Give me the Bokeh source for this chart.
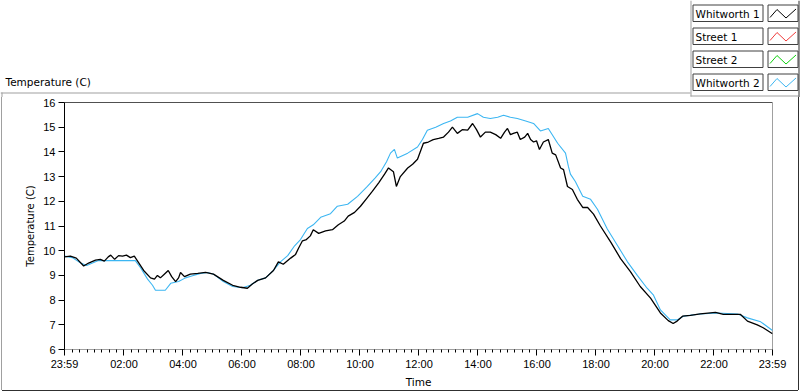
from bokeh.plotting import figure
from bokeh.models import FixedTicker, Span, Range1d
from bokeh.layouts import column
from bokeh.core.properties import value
from bokeh.embed import file_html
from bokeh.resources import INLINE

# ---------------- data (minutes since midnight, temperature in C) ----------------
w1_minutes = [-1, 11, 23, 38, 48, 62, 72, 80, 88, 93, 101, 109, 117, 125, 133, 141, 147,
              160, 174, 182, 188, 194, 202, 210, 217, 225, 231, 235, 243, 255, 270, 286,
              302, 322, 341, 357, 371, 381, 392, 408, 424, 434, 444, 459, 469, 475, 483,
              491, 499, 505, 516, 530, 544, 556, 568, 576, 589, 601, 613, 625, 638, 650,
              658, 668, 674, 682, 697, 707, 717, 729, 739, 749, 760, 770, 780, 788, 798,
              808, 819, 829, 837, 845, 855, 865, 876, 886, 894, 900, 906, 912, 920, 926,
              935, 941, 947, 953, 959, 965, 973, 983, 991, 998, 1008, 1014, 1022, 1032,
              1042, 1053, 1063, 1075, 1089, 1110, 1130, 1150, 1170, 1191, 1211, 1227,
              1237, 1245, 1256, 1272, 1292, 1323, 1339, 1374, 1388, 1408, 1420, 1439]
w1_temp = [9.75, 9.78, 9.70, 9.38, 9.50, 9.62, 9.65, 9.58, 9.75, 9.82, 9.65, 9.80, 9.78,
           9.82, 9.72, 9.78, 9.60, 9.20, 8.90, 8.85, 9.00, 8.90, 9.05, 9.20, 8.95, 8.75,
           8.90, 9.12, 8.95, 9.05, 9.08, 9.12, 9.05, 8.80, 8.60, 8.52, 8.48, 8.65, 8.80,
           8.90, 9.20, 9.55, 9.45, 9.70, 9.85, 10.10, 10.40, 10.45, 10.60, 10.85, 10.70,
           10.80, 10.85, 11.05, 11.20, 11.40, 11.55, 11.80, 12.10, 12.40, 12.75, 13.10,
           13.35, 13.20, 12.60, 13.00, 13.35, 13.50, 13.70, 14.35, 14.40, 14.50, 14.55,
           14.60, 14.80, 15.00, 14.75, 14.90, 14.88, 15.15, 14.90, 14.60, 14.80, 14.80,
           14.70, 14.55, 14.80, 14.95, 14.70, 14.75, 14.80, 14.50, 14.60, 14.75, 14.50,
           14.40, 14.45, 14.10, 14.40, 14.50, 13.95, 13.88, 13.35, 13.28, 12.60, 12.48,
           12.08, 11.75, 11.75, 11.48, 11.00, 10.35, 9.68, 9.15, 8.55, 8.08, 7.48, 7.17,
           7.05, 7.15, 7.35, 7.38, 7.44, 7.50, 7.42, 7.42, 7.15, 7.00, 6.88, 6.64]

w2_minutes = [-1, 15, 32, 44, 56, 68, 80, 143, 154, 168, 178, 184, 204, 215, 231, 245, 261,
              276, 290, 302, 322, 341, 361, 377, 392, 408, 424, 438, 453, 467, 479, 493,
              505, 520, 540, 554, 575, 595, 615, 631, 642, 654, 662, 670, 676, 697, 717,
              727, 737, 754, 770, 784, 798, 819, 839, 851, 865, 880, 892, 906, 920, 937,
              953, 967, 983, 1002, 1018, 1024, 1028, 1038, 1053, 1069, 1083, 1103, 1124,
              1144, 1164, 1184, 1197, 1211, 1231, 1245, 1258, 1292, 1327, 1368, 1388,
              1415, 1439]
w2_temp = [9.78, 9.72, 9.50, 9.40, 9.50, 9.60, 9.60, 9.60, 9.30, 8.85, 8.60, 8.40, 8.40,
           8.68, 8.75, 8.90, 9.00, 9.08, 9.12, 9.05, 8.75, 8.55, 8.50, 8.60, 8.80, 8.90,
           9.20, 9.55, 9.80, 10.20, 10.45, 10.90, 11.05, 11.35, 11.50, 11.80, 11.88,
           12.20, 12.60, 12.95, 13.20, 13.60, 13.95, 14.10, 13.75, 13.95, 14.20, 14.50,
           14.88, 15.00, 15.15, 15.25, 15.40, 15.40, 15.55, 15.40, 15.35, 15.40, 15.48,
           15.40, 15.35, 15.25, 15.15, 14.85, 14.95, 14.35, 13.95, 13.40, 13.10, 12.80,
           12.20, 12.08, 11.68, 10.88, 10.20, 9.55, 9.00, 8.48, 8.20, 7.60, 7.20, 7.20,
           7.35, 7.44, 7.48, 7.44, 7.28, 7.12, 6.77]

series_names = ["Whitworth 1", "Street 1", "Street 2", "Whitworth 2"]
series_colors = ["#000000", "#f03c3c", "#10d010", "#3cb6f2"]

x_tick_minutes = [-1, 120, 240, 360, 480, 600, 720, 840, 960, 1080, 1200, 1320, 1439]
x_tick_labels = ["23:59", "02:00", "04:00", "06:00", "08:00", "10:00", "12:00",
                 "14:00", "16:00", "18:00", "20:00", "22:00", "23:59"]
x_minor_minutes = [m for m in range(15, 1439, 15) if m % 120 != 0]
y_ticks = [6, 7, 8, 9, 10, 11, 12, 13, 14, 15, 16]

FONT = "DejaVu Sans"
TICK_FONT = "Liberation Sans"
GRAY = "#a0a0a0"
DARK = "#303030"
W = 800
TOP_H = 97
MAIN_W = 796
MAIN_H = 293

# ---------------- header: graph caption + plot legend ----------------
hdr = figure(width=W, height=TOP_H, output_backend="svg", toolbar_location=None,
             x_range=Range1d(0, W), y_range=Range1d(TOP_H, 0),
             x_axis_location=None, y_axis_location=None,
             min_border=0, min_border_left=0, min_border_right=0,
             min_border_top=0, min_border_bottom=0)
hdr.frame_align = False
hdr.grid.visible = False
hdr.outline_line_color = None
hdr.background_fill_color = "white"
hdr.border_fill_color = "white"

# panel frame pieces (caption area / legend area borders)
hdr.quad(left=[0, 1, 690, 690, 798], right=[690, 2, 691, 798, 799],
         top=[92, 92, 0, 95, 0], bottom=[93, TOP_H, 96, 96, TOP_H],
         fill_color=[GRAY, GRAY, GRAY, GRAY, DARK], line_color=None)

hdr.text(x=[5], y=[81], text=["Temperature (C)"], text_font=value(FONT),
         text_font_size="10.5px", text_baseline="middle", text_align="left",
         text_color="black")

row_tops = [4.5, 27.5, 50.5, 73.5]
hdr.quad(left=[692.5] * 4 + [767.5] * 4, right=[762.5] * 4 + [797.5] * 4,
         top=row_tops * 2, bottom=[t + 16.5 for t in row_tops] * 2,
         fill_color="white", line_color="#404040", line_width=1)
hdr.text(x=[695] * 4, y=[t + 8.5 for t in row_tops], text=series_names,
         text_font=value(FONT), text_font_size="10.5px", text_baseline="middle",
         text_align="left", text_color="black")
for color, t in zip(series_colors, row_tops):
    hdr.line(x=[769.5, 776.5, 785.5, 795.5], y=[t + 12.5, t + 4.5, t + 13, t + 4],
             line_color=color, line_width=1)

# ---------------- main chart ----------------
p = figure(width=MAIN_W, height=MAIN_H, output_backend="svg", toolbar_location=None,
           x_range=Range1d(-1, 1439), y_range=Range1d(6, 16),
           min_border_left=62, min_border_right=26,
           min_border_top=5, min_border_bottom=38,
           x_axis_label="Time", y_axis_label="Temperature (C)")
p.frame_align = False
p.margin = (0, 0, 0, 2)
p.grid.visible = False
p.outline_line_color = GRAY
p.background_fill_color = "white"
p.border_fill_color = "white"
p.styles = {"box-shadow": "-1px 0 0 0 #a0a0a0, 1px 0 0 0 #303030, 0 1px 0 0 #303030"}

xa = p.xaxis[0]
xa.ticker = FixedTicker(ticks=x_tick_minutes, minor_ticks=x_minor_minutes)
xa.major_label_overrides = dict(zip(x_tick_minutes, x_tick_labels))
xa.axis_line_color = GRAY
xa.major_tick_line_color = "black"
xa.minor_tick_line_color = "black"
xa.major_tick_in = 0
xa.major_tick_out = 6
xa.minor_tick_in = 0
xa.minor_tick_out = 3
xa.major_label_standoff = 2
xa.major_label_text_font = TICK_FONT
xa.major_label_text_font_size = "11px"
xa.major_label_text_color = "black"
xa.axis_label_text_font = FONT
xa.axis_label_text_font_size = "10.5px"
xa.axis_label_text_font_style = "normal"
xa.axis_label_text_color = "black"
xa.axis_label_standoff = 3

ya = p.yaxis[0]
ya.ticker = FixedTicker(ticks=y_ticks, minor_ticks=[])
ya.axis_line_color = "black"
ya.major_tick_line_color = "black"
ya.minor_tick_line_color = None
ya.major_tick_in = 0
ya.major_tick_out = 6
ya.major_label_standoff = 3
ya.major_label_text_font = TICK_FONT
ya.major_label_text_font_size = "11px"
ya.major_label_text_color = "black"
ya.axis_label_text_font = FONT
ya.axis_label_text_font_size = "10px"
ya.axis_label_text_font_style = "normal"
ya.axis_label_text_color = "black"
ya.axis_label_standoff = 4

p.add_layout(Span(location=16, dimension="width", line_color="black", line_width=1))

p.line(w2_minutes, w2_temp, line_color=series_colors[3], line_width=1.1)
p.line(w1_minutes, w1_temp, line_color=series_colors[0], line_width=1.3)

layout = column(hdr, p, spacing=0)
open("out.html", "w").write(file_html(layout, INLINE))
